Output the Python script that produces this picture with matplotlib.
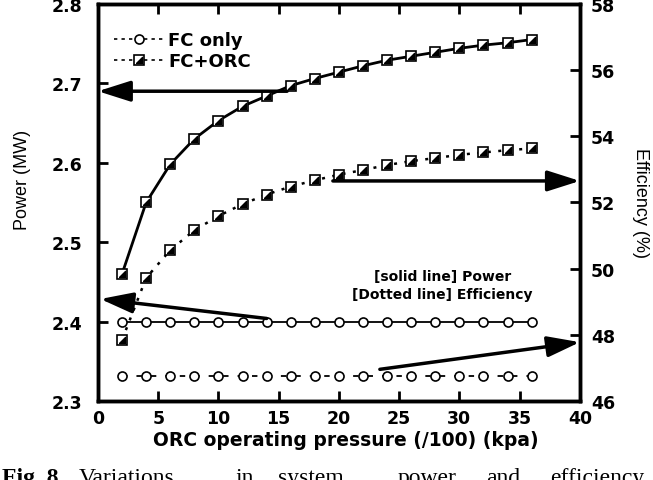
import numpy as np
import matplotlib.pyplot as plt
from matplotlib.lines import Line2D
from matplotlib.legend_handler import HandlerTuple

# Data
pressure = [2, 4, 6, 8, 10, 12, 14, 16, 18, 20, 22, 24, 26, 28, 30, 32, 34, 36]

power_fc = [2.40, 2.40, 2.40, 2.40, 2.40, 2.40, 2.40, 2.40, 2.40,
            2.40, 2.40, 2.40, 2.40, 2.40, 2.40, 2.40, 2.40, 2.40]
power_orc = [2.460, 2.550, 2.598, 2.630, 2.653, 2.671, 2.684, 2.697, 2.706,
             2.714, 2.722, 2.729, 2.734, 2.739, 2.744, 2.748, 2.751, 2.755]

eff_fc = [46.75, 46.75, 46.75, 46.75, 46.75, 46.75, 46.75, 46.75, 46.75,
          46.75, 46.75, 46.75, 46.75, 46.75, 46.75, 46.75, 46.75, 46.75]
eff_orc = [47.85, 49.72, 50.56, 51.16, 51.59, 51.95, 52.24, 52.48, 52.67,
           52.84, 52.98, 53.13, 53.25, 53.34, 53.44, 53.51, 53.58, 53.63]

xticks = [0, 5, 10, 15, 20, 25, 30, 35, 40]
power_ticks = [2.3, 2.4, 2.5, 2.6, 2.7, 2.8]
eff_ticks = [46, 48, 50, 52, 54, 56, 58]

bold = dict(family="DejaVu Sans", weight="bold")
tri = [(-1, -1), (1, -1), (1, 1), (-1, -1)]  # lower-right half of the square marker

fig = plt.figure(figsize=(6.53, 4.81), dpi=100)
ax = fig.add_axes([0.150, 0.164, 0.738, 0.826])
ax2 = ax.twinx()

sq = dict(marker="s", ms=6.5, mfc="white", mec="black", mew=1.2, color="black")
circ = dict(marker="o", ms=6.5, mfc="white", mec="black", mew=1.2, color="black")

# power (solid lines, left axis)
ax.plot(pressure, power_fc, ls="-", lw=1.3, **circ)
ax.plot(pressure, power_orc, ls="-", lw=2.0, **sq)
ax.plot(pressure, power_orc, ls="none", marker=tri, ms=4.5, color="black")

# efficiency (dotted lines, right axis)
ax2.plot(pressure, eff_fc, ls=(0, (3, 5)), lw=1.3, **circ)
ax2.plot(pressure, eff_orc, ls=(0, (1.2, 3)), lw=1.8, **sq)
ax2.plot(pressure, eff_orc, ls="none", marker=tri, ms=4.5, color="black")

ax.set_xlim(0, 40)
ax.set_ylim(2.3, 2.8)
ax2.set_ylim(46, 58)
ax.set_xticks(xticks)
ax.set_yticks(power_ticks)
ax2.set_yticks(eff_ticks)
ax.set_xticklabels([str(v) for v in xticks], fontdict=bold, fontsize=12.5)
ax.set_yticklabels([f"{v:.1f}" for v in power_ticks], fontdict=bold, fontsize=12.5)
ax2.set_yticklabels([str(v) for v in eff_ticks], fontdict=bold, fontsize=12.5)

ax.tick_params(axis="x", direction="in", length=7, width=2, top=True, pad=6)
ax.tick_params(axis="y", direction="in", length=7, width=2, right=False, pad=11)
ax2.tick_params(axis="y", direction="in", length=7, width=2, pad=8)
for a in (ax, ax2):
    for s in a.spines.values():
        s.set_linewidth(2.5)

# arrows
arr = dict(arrowstyle="-|>,head_length=1.1,head_width=0.35", lw=2.5, color="black",
           mutation_scale=18, shrinkA=0, shrinkB=0)
ax.annotate("", xy=(0, 2.690), xytext=(15.7, 2.690), arrowprops=arr)
ax.annotate("", xy=(0.2, 2.4285), xytext=(14, 2.404), arrowprops=arr)
ax2.annotate("", xy=(40, 52.65), xytext=(19.5, 52.65), arrowprops=arr)
ax2.annotate("", xy=(40, 47.78), xytext=(23.4, 46.96), arrowprops=arr)

ax2.text(28.6, 49.5, "[solid line] Power\n[Dotted line] Efficiency", ha="center", va="center",
         fontsize=10, linespacing=1.35, **bold)

# legend
h_fc = Line2D([], [], ls=(0, (2, 2.5)), lw=1.2, **circ)
h_orc = Line2D([], [], ls=(0, (2, 2.5)), lw=1.2, **sq)
h_tri = Line2D([], [], ls="none", marker=tri, ms=4.5, color="black")
ax2.legend([h_fc, (h_orc, h_tri)], ["FC only", "FC+ORC"],
           handler_map={tuple: HandlerTuple(ndivide=1)},
           loc="upper left", bbox_to_anchor=(0.0, 0.972), frameon=False,
           handlelength=2.8, handletextpad=0.2, labelspacing=0.15,
           prop=dict(family="DejaVu Sans", weight="bold", size=13))

# axis labels
fig.text(23 / 653, 1 - 180 / 481, "Power (MW)", rotation=90, ha="center", va="center",
         family="Liberation Sans", fontsize=13)
fig.text(640 / 653, 1 - 203 / 481, "Efficiency (%)", rotation=270, ha="center", va="center",
         family="Liberation Sans", fontsize=13)
fig.text(346 / 653, 1 - 441 / 481, "ORC operating pressure (/100) (kpa)", ha="center",
         va="center", fontsize=13.5, **bold)

# caption (cut off at the bottom, as in the source)
fig.text(2 / 653, -0.006, "Fig. 8", ha="left", va="baseline", family="Liberation Serif",
         weight="bold", fontsize=17)
caption_words = ["Variations", "in", "system", "power", "and", "efficiency"]
caption_x = [79, 236, 278, 398, 486, 550]
for w, x in zip(caption_words, caption_x):
    fig.text(x / 653, -0.006, w, ha="left", va="baseline", family="Liberation Serif",
             fontsize=17)

fig.savefig("out.png", dpi=100)
